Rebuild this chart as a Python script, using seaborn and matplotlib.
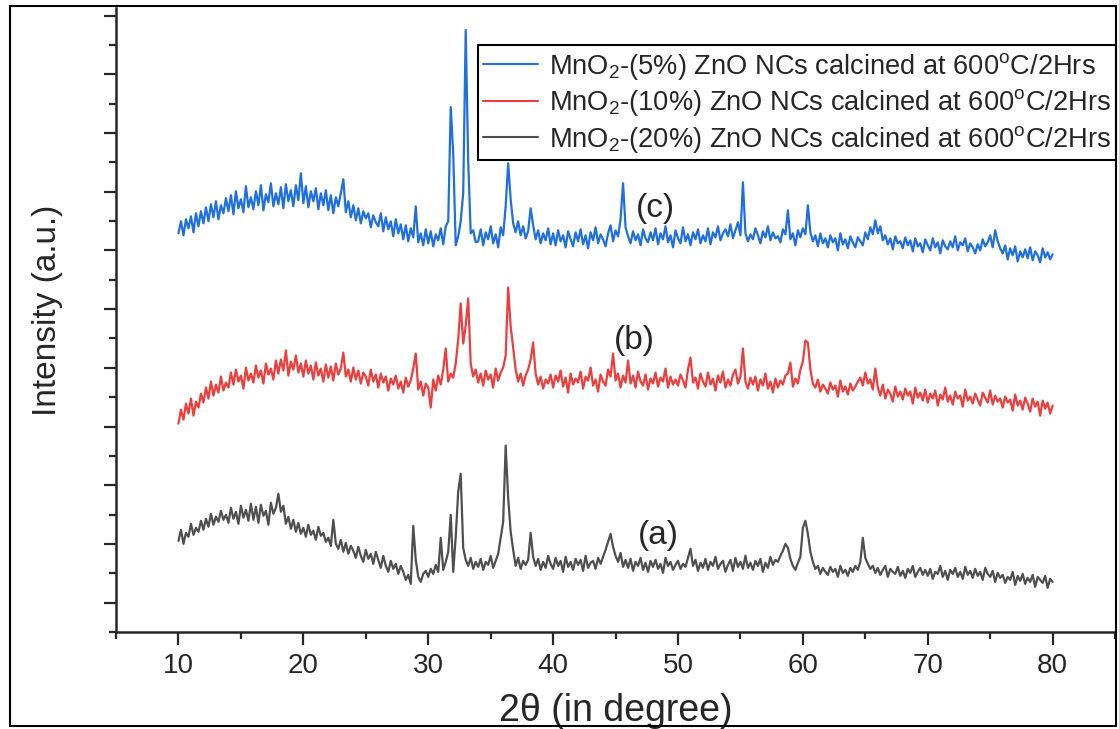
import numpy as np
import pandas as pd
import matplotlib
matplotlib.use('Agg')
import matplotlib.pyplot as plt
from matplotlib.ticker import MultipleLocator, NullFormatter
from matplotlib.patches import Rectangle
import seaborn as sns

# 2theta grid of the scan (0.2 degree step)
two_theta = np.linspace(10, 80, 351)

# MnO2-(5%) ZnO, curve (c)
int_5 = [
    398, 410, 396, 412, 403, 415, 399, 418, 405, 420,
    408, 424, 410, 427, 414, 430, 412, 426, 418, 433,
    420, 436, 417, 440, 423, 432, 419, 445, 424, 434,
    422, 440, 426, 446, 421, 437, 429, 448, 425, 438,
    427, 444, 423, 447, 430, 441, 425, 446, 431, 458,
    428, 445, 424, 440, 430, 443, 422, 438, 426, 441,
    421, 436, 418, 434, 425, 438, 452, 419, 430, 414,
    426, 411, 423, 408, 420, 413, 418, 404, 416, 409,
    405, 418, 400, 414, 402, 410, 395, 412, 398, 407,
    392, 406, 390, 403, 394, 425, 389, 398, 386, 402,
    388, 400, 385, 397, 391, 403, 387, 405, 410, 524,
    478, 386, 395, 410, 438, 601, 470, 398, 401, 389,
    390, 402, 386, 399, 392, 405, 388, 397, 384, 404,
    396, 425, 468, 432, 408, 399, 410, 396, 405, 393,
    400, 423, 406, 392, 401, 388, 398, 391, 403, 387,
    398, 386, 401, 390, 396, 384, 400, 392, 385, 399,
    390, 402, 387, 396, 383, 399, 391, 404, 388, 397,
    392, 385, 398, 406, 390, 401, 395, 412, 448, 404,
    395, 388, 400, 391, 397, 386, 402, 393, 389, 399,
    391, 403, 387, 398, 392, 405, 389, 396, 384, 401,
    393, 388, 404, 390, 397, 386, 399, 392, 402, 388,
    396, 390, 403, 387, 399, 394, 405, 391, 398, 402,
    395, 407, 393, 401, 409, 396, 449, 398, 390, 397,
    392, 403, 396, 388, 400, 394, 405, 391, 399, 393,
    395, 389, 402, 397, 421, 392, 398, 386, 401, 394,
    403, 397, 426, 399, 390, 396, 385, 398, 388, 393,
    384, 396, 389, 393, 381, 398, 387, 392, 383, 395,
    389, 384, 394, 390, 386, 399, 392, 404, 397, 411,
    398, 405, 391, 396, 387, 393, 382, 395, 388, 390,
    383, 394, 386, 391, 380, 393, 385, 388, 379, 392,
    386, 381, 393, 384, 389, 378, 391, 385, 382, 390,
    384, 395, 381, 389, 386, 393, 380, 388, 384, 378,
    387, 381, 392, 385, 389, 396, 384, 401, 390, 383,
    378, 386, 372, 383, 376, 385, 370, 380, 374, 382,
    373, 384, 371, 380, 376, 369, 383, 374, 379, 372,
    377,
]

# MnO2-(10%) ZnO, curve (b)
int_10 = [
    208, 222, 212, 228, 218, 233, 216, 230, 224, 238,
    229, 244, 233, 250, 236, 247, 239, 255, 241, 249,
    244, 259, 247, 262, 250, 256, 243, 264, 251, 258,
    249, 266, 254, 261, 248, 268, 257, 263, 252, 271,
    258, 272, 261, 281, 256, 270, 262, 276, 259, 268,
    255, 271, 258, 266, 252, 269, 256, 263, 250, 267,
    254, 265, 251, 268, 257, 263, 279, 255, 262, 250,
    264, 252, 261, 248, 259, 255, 246, 262, 250, 257,
    244, 258, 249, 255, 241, 253, 247, 256, 243, 250,
    239, 254, 245, 251, 263, 278, 242, 250, 236, 248,
    244, 224, 252, 241, 256, 247, 262, 283, 250, 258,
    254, 268, 292, 328, 288, 306, 333, 268, 255, 262,
    249, 258, 246, 261, 252, 257, 244, 263, 251, 259,
    264, 276, 344, 305, 284, 262, 250, 258, 246, 256,
    262, 272, 289, 258, 247, 255, 243, 252, 248, 257,
    244, 256, 250, 261, 245, 254, 239, 258, 247, 253,
    249, 260, 243, 255, 251, 264, 246, 252, 240, 257,
    250, 246, 262, 255, 278, 251, 258, 244, 256, 249,
    271, 248, 256, 244, 260, 250, 246, 257, 242, 253,
    248, 259, 245, 254, 250, 263, 244, 255, 247, 252,
    246, 257, 251, 244, 262, 274, 249, 254, 243, 258,
    250, 245, 259, 247, 253, 241, 256, 249, 260, 244,
    252, 246, 257, 262, 248, 255, 283, 250, 243, 254,
    247, 255, 241, 252, 246, 258, 243, 250, 239, 253,
    244, 251, 247, 256, 258, 269, 245, 253, 248, 262,
    270, 291, 289, 262, 248, 244, 252, 240, 247, 243,
    238, 249, 242, 246, 235, 251, 240, 245, 237, 248,
    241, 245, 250, 254, 246, 259, 248, 252, 242, 263,
    244, 236, 247, 233, 242, 238, 230, 245, 235, 240,
    232, 243, 236, 240, 228, 244, 234, 239, 231, 242,
    229, 238, 233, 241, 226, 237, 232, 244, 230, 236,
    227, 240, 233, 236, 225, 242, 231, 235, 228, 238,
    232, 226, 239, 234, 229, 241, 227, 236, 230, 233,
    224, 235, 229, 232, 221, 237, 226, 231, 222, 234,
    228, 220, 233, 225, 230, 216, 231, 223, 229, 218,
    226,
]

# MnO2-(20%) ZnO, curve (a)
int_20 = [
    91, 102, 88, 99, 95, 108, 97, 104, 100, 111,
    102, 113, 105, 118, 107, 115, 110, 121, 112, 117,
    109, 124, 113, 120, 108, 126, 114, 122, 111, 128,
    112, 125, 109, 127, 116, 121, 107, 129, 118, 124,
    138, 120, 126, 108, 115, 103, 112, 100, 109, 98,
    104, 95, 107, 97, 101, 92, 105, 96, 99, 90,
    94, 86, 112, 88, 83, 92, 80, 89, 78, 86,
    81, 74, 85, 76, 70, 82, 73, 78, 68, 80,
    72, 64, 76, 66, 60, 71, 63, 68, 58, 66,
    60, 52, 57, 48, 106, 72, 55, 50, 58, 61,
    55, 63, 58, 67, 60, 94, 62, 70, 80, 117,
    60, 95, 140, 158, 84, 72, 66, 74, 63, 70,
    65, 73, 62, 70, 67, 76, 64, 71, 78, 94,
    110, 186, 134, 100, 82, 66, 74, 63, 71, 67,
    72, 99, 75, 66, 73, 62, 70, 64, 76, 68,
    63, 74, 66, 71, 60, 75, 65, 70, 62, 73,
    67, 72, 61, 76, 64, 69, 71, 63, 74, 68,
    75, 82, 90, 98, 85, 76, 70, 79, 65, 72,
    64, 73, 61, 70, 66, 74, 62, 69, 60, 71,
    65, 72, 63, 68, 59, 74, 66, 70, 62, 67,
    71, 63, 68, 65, 74, 83, 66, 72, 61, 69,
    64, 73, 62, 70, 66, 75, 63, 68, 71, 60,
    67, 72, 61, 74, 65, 70, 63, 76, 64, 69,
    62, 71, 66, 73, 60, 69, 64, 75, 67, 72,
    70, 76, 81, 88, 84, 73, 66, 62, 69, 75,
    104, 111, 98, 80, 70, 63, 66, 58, 64, 60,
    57, 65, 60, 63, 55, 66, 59, 62, 56, 64,
    60, 66, 62, 70, 94, 74, 68, 63, 66, 59,
    64, 57, 62, 66, 55, 63, 60, 58, 65, 56,
    61, 54, 63, 59, 66, 55, 60, 64, 57, 62,
    56, 63, 53, 60, 58, 66, 55, 61, 52, 62,
    58, 64, 55, 60, 53, 65, 57, 61, 54, 63,
    56, 60, 52, 64, 58, 55, 61, 50, 59, 54,
    57, 49, 55, 52, 60, 47, 56, 51, 58, 48,
    54, 50, 57, 45, 55, 52, 49, 56, 44, 53,
    50,
]

labels = [
    'MnO$_2$-(5%) ZnO NCs calcined at 600$^\\mathrm{o}$C/2Hrs',
    'MnO$_2$-(10%) ZnO NCs calcined at 600$^\\mathrm{o}$C/2Hrs',
    'MnO$_2$-(20%) ZnO NCs calcined at 600$^\\mathrm{o}$C/2Hrs',
]
colors = ['#1f6fe0', '#ee3d3d', '#4f4f4f']

tags = ['(c)', '(b)', '(a)']
tag_x = [48.2, 46.5, 48.4]
tag_y = [423, 291, 96]

sns.set_style('ticks')
plt.rcParams['font.family'] = ['Liberation Sans', 'DejaVu Sans']
plt.rcParams['mathtext.fontset'] = 'custom'
plt.rcParams['mathtext.rm'] = 'Liberation Sans'
plt.rcParams['mathtext.it'] = 'Liberation Sans:italic'

df = pd.concat([
    pd.DataFrame({'two_theta': two_theta, 'intensity': vals, 'sample': lab})
    for vals, lab in zip([int_5, int_10, int_20], labels)
])

fig = plt.figure(figsize=(11.19, 7.29), dpi=100)
ax = fig.add_axes([0.1037, 0.1331, 0.8928, 0.8560])

sns.lineplot(data=df, x='two_theta', y='intensity', hue='sample',
             hue_order=labels, palette=colors, estimator=None, sort=False,
             linewidth=1.6, ax=ax)

for t, x, y in zip(tags, tag_x, tag_y):
    ax.text(x, y, t, fontsize=24, ha='center', va='center')

ax.set_xlim(5, 85)
ax.set_ylim(0, 623)
ax.xaxis.set_major_locator(MultipleLocator(10))
ax.xaxis.set_minor_locator(MultipleLocator(5))
ax.yaxis.set_major_locator(MultipleLocator(58.6, offset=29.3))
ax.yaxis.set_minor_locator(MultipleLocator(29.3))
ax.yaxis.set_major_formatter(NullFormatter())

for side in ['top', 'right']:
    ax.spines[side].set_visible(False)
for side in ['left', 'bottom']:
    ax.spines[side].set_linewidth(1.8)
ax.tick_params(which='major', direction='out', length=9, width=1.6, labelsize=20, pad=6)
ax.tick_params(which='minor', direction='out', length=5, width=1.6)

ax.set_xlabel('2θ (in degree)', fontsize=27, labelpad=10)
ax.set_ylabel('Intensity (a.u.)', fontsize=24)
ax.yaxis.set_label_coords(-0.053, 0.516)

handles, labs = ax.get_legend_handles_labels()
leg = ax.legend(handles, labs, loc='upper left', bbox_to_anchor=(0.427, 0.938),
                bbox_transform=fig.transFigure, fontsize=19.6, frameon=True,
                fancybox=False, edgecolor='black', framealpha=1,
                handlelength=2.0, handletextpad=0.4, labelspacing=0.2,
                borderpad=0.2, borderaxespad=0)
leg.get_frame().set_linewidth(1.5)
for line in leg.get_lines():
    line.set_linewidth(1.5)

fig.patches.append(Rectangle((0.009, 0.004), 0.988, 0.988, transform=fig.transFigure,
                             fill=False, edgecolor='black', linewidth=1.5))

fig.savefig('out.png', dpi=100)
